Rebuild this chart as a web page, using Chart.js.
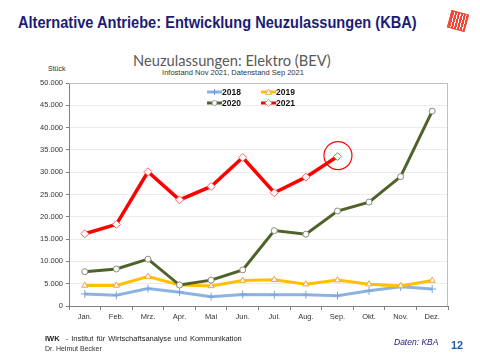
<!DOCTYPE html>
<html>
<head>
<meta charset="utf-8">
<script src="https://cdn.jsdelivr.net/npm/chart.js@4"></script>
<style>
  body { margin: 0; width: 480px; height: 360px; position: relative; background: #fff; overflow: hidden; font-family: "Liberation Sans", Arial, sans-serif; }
  #c { position: absolute; left: 0; top: 0; }
  .t { position: absolute; white-space: nowrap; }
  #title { left: 18px; top: 13px; font-size: 16.5px; font-weight: bold; color: #1c1c74; transform: scaleX(0.885); transform-origin: 0 0; }
  #ctitle { left: 133px; top: 50px; font-family: "Lato", "Open Sans", sans-serif; font-size: 16px; color: #595959; transform: scaleX(0.917); transform-origin: 0 0; }
  #sub { left: 0; width: 466px; text-align: center; top: 68px; font-size: 7.5px; color: #333; }
  #unit { left: 48px; top: 65px; font-size: 7px; color: #333; }
  #foot1 { left: 45px; top: 334px; font-size: 8px; color: #222; word-spacing: 1px; transform: scaleX(0.94); transform-origin: 0 0; }
  #foot2 { left: 45px; top: 345px; font-size: 7px; color: #333; }
  #src { left: 394px; top: 337px; font-size: 8.5px; font-style: italic; color: #1c1c74; }
  #page { left: 451px; top: 339px; font-size: 11px; font-weight: bold; color: #1f5fa8; }
  #logo { position: absolute; left: 449px; top: 12px; width: 16px; height: 16px; transform: rotate(15deg);
    background: repeating-linear-gradient(90deg, #e32 0 2px, #fff 2px 3px), #e32; border: 1px solid #e32; opacity: 0.9; }
  .leg { position: absolute; font-size: 8.5px; font-weight: bold; color: #111; height: 10px; line-height: 10px; }
  .leg svg { position: absolute; left: 0; top: 0; }
  .leg span { position: absolute; left: 15px; top: 0; }
</style>
</head>
<body>
<div id="title" class="t">Alternative Antriebe: Entwicklung Neuzulassungen (KBA)</div>
<div id="logo"></div>
<div id="ctitle" class="t">Neuzulassungen: Elektro (BEV)</div>
<div id="sub" class="t">Infostand Nov 2021, Datenstand Sep 2021</div>
<div id="unit" class="t">Stück</div>
<canvas id="c" width="480" height="360"></canvas>
<div class="leg" style="left:207px;top:87px"><svg width="15" height="10"><line x1="0" y1="5" x2="15" y2="5" stroke="#8db3e2" stroke-width="3"/><path d="M7.5 2V8M4.5 5H10.5" stroke="#6f9fd8" stroke-width="1"/></svg><span>2018</span></div>
<div class="leg" style="left:261px;top:87px"><svg width="15" height="10"><line x1="0" y1="5" x2="15" y2="5" stroke="#ffc000" stroke-width="3"/><path d="M7.5 2L10.5 7.5H4.5Z" fill="#fff" stroke="#f0a030" stroke-width="0.8"/></svg><span>2019</span></div>
<div class="leg" style="left:207px;top:98px"><svg width="15" height="10"><line x1="0" y1="5" x2="15" y2="5" stroke="#4f6228" stroke-width="3"/><circle cx="7.5" cy="5" r="2.5" fill="#fff" stroke="#888" stroke-width="0.8"/></svg><span>2020</span></div>
<div class="leg" style="left:261px;top:98px"><svg width="15" height="10"><line x1="0" y1="5" x2="15" y2="5" stroke="#ff0000" stroke-width="3"/><path d="M7.5 1.5L11 5L7.5 8.5L4 5Z" fill="#fff" stroke="#f66" stroke-width="0.8"/></svg><span>2021</span></div>
<div id="foot1" class="t"><b>IWK</b>&nbsp; - Institut für Wirtschaftsanalyse und Kommunikation</div>
<div id="foot2" class="t">Dr. Helmut Becker</div>
<div id="src" class="t">Daten: KBA</div>
<div id="page" class="t">12</div>
<script>
const months = ['Jan.', 'Feb.', 'Mrz.', 'Apr.', 'Mai', 'Jun.', 'Jul.', 'Aug.', 'Sep.', 'Okt.', 'Nov.', 'Dez.'];
const y2018 = [2700, 2400, 3900, 3100, 2100, 2600, 2500, 2500, 2300, 3400, 4300, 3800];
const y2019 = [4600, 4600, 6600, 4700, 4500, 5700, 5900, 4900, 5800, 4900, 4500, 5700];
const y2020 = [7700, 8300, 10500, 4700, 5800, 8100, 16900, 16100, 21300, 23300, 29000, 43700];
const y2021 = [16200, 18300, 30100, 23800, 26800, 33300, 25400, 28900, 33500];
const highlightIndex = 8;

function fmt(v) {
  return String(v).replace(/\B(?=(\d{3})+(?!\d))/g, '.');
}

const frame = {
  id: 'frame',
  beforeDatasetsDraw(chart) {
    const a = chart.chartArea, ctx = chart.ctx;
    ctx.save();
    ctx.strokeStyle = '#bfbfbf';
    ctx.lineWidth = 1;
    ctx.beginPath();
    ctx.moveTo(a.left, a.top + 0.5);
    ctx.lineTo(a.right - 0.5, a.top + 0.5);
    ctx.lineTo(a.right - 0.5, a.bottom);
    ctx.stroke();
    ctx.restore();
  },
  afterDatasetsDraw(chart) {
    const pt = chart.getDatasetMeta(0).data[highlightIndex];
    const ctx = chart.ctx;
    ctx.save();
    ctx.strokeStyle = '#ff0000';
    ctx.lineWidth = 1.2;
    ctx.beginPath();
    ctx.arc(pt.x + 0.5, pt.y - 1, 14, 0, Math.PI * 2);
    ctx.stroke();
    ctx.restore();
  }
};

new Chart(document.getElementById('c'), {
  type: 'line',
  data: {
    labels: months,
    datasets: [
      { label: '2021', data: y2021, borderColor: '#ff0000', borderWidth: 3.5, pointStyle: 'rectRot', pointRadius: 4, pointBackgroundColor: '#fff', pointBorderColor: '#ff6060', pointBorderWidth: 1, order: 0 },
      { label: '2020', data: y2020, borderColor: '#4f6228', borderWidth: 3, pointStyle: 'circle', pointRadius: 3, pointBackgroundColor: '#fff', pointBorderColor: '#8a8a7a', pointBorderWidth: 1, order: 1 },
      { label: '2019', data: y2019, borderColor: '#ffc000', borderWidth: 3, pointStyle: 'triangle', pointRadius: 3.5, pointBackgroundColor: '#fff', pointBorderColor: '#f5a040', pointBorderWidth: 1, order: 2 },
      { label: '2018', data: y2018, borderColor: '#8db3e2', borderWidth: 3, pointStyle: 'cross', pointRadius: 4, pointBorderColor: '#7aa5dc', pointBorderWidth: 1, order: 3 }
    ]
  },
  options: {
    responsive: false,
    animation: false,
    layout: { padding: { left: 29, right: 32, top: 83, bottom: 34 } },
    plugins: { legend: { display: false }, tooltip: { enabled: false } },
    elements: { line: { tension: 0 } },
    scales: {
      x: {
        offset: true,
        afterFit: s => { s.height = 20; },
        grid: { offset: true, drawOnChartArea: false, tickLength: 4, color: '#808080' },
        border: { color: '#808080' },
        ticks: { color: '#333', font: { family: 'Liberation Sans', size: 7.5 }, padding: 2, maxRotation: 0 }
      },
      y: {
        min: 0, max: 50000,
        afterFit: s => { s.width = 40; },
        grid: { color: '#ececec', tickLength: 3, tickColor: '#808080' },
        border: { color: '#808080' },
        ticks: { stepSize: 5000, color: '#333', font: { family: 'Liberation Sans', size: 7.5 }, padding: 3, callback: v => fmt(v) }
      }
    }
  },
  plugins: [frame]
});
</script>
</body>
</html>
